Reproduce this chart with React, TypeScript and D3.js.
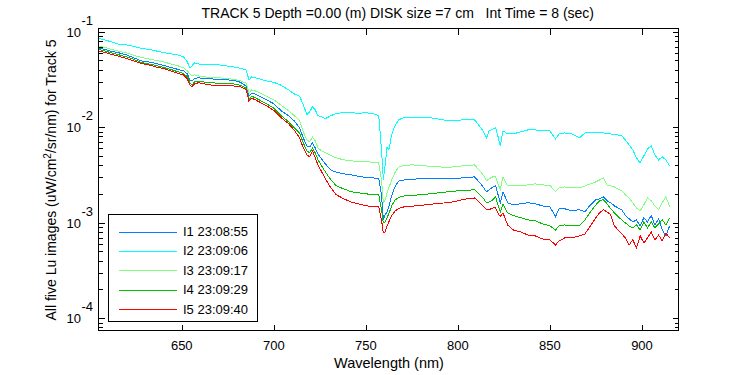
import React from 'react';
import * as d3 from 'd3';

const wavelengths = [
  605, 608, 612, 616, 620, 624, 628, 632, 636, 640,
  644, 648, 651, 653, 654.5, 655.5, 657, 659, 662, 666,
  670, 674, 678, 682, 685, 686.5, 688, 690, 693, 696,
  700, 704, 708, 711, 714, 716, 718, 719.5, 721, 722.5,
  724, 726, 728, 731, 734, 738, 742, 746, 750, 754,
  757, 758.5, 759.5, 760.5, 761.5, 762.5, 764, 766, 768, 771,
  775, 780, 785, 790, 795, 800, 805, 809, 812, 814,
  815.5, 817, 819, 820.5, 822, 823, 824.5, 827, 830, 834,
  838, 842, 846, 850, 853, 855, 858, 862, 866, 869,
  872, 875, 877, 879, 881, 883, 885, 887, 889, 891,
  893, 895, 897, 899, 901, 903, 905, 907, 909, 911,
  913, 915,
];

const luI1 = [
  0.0677, 0.0653, 0.0622, 0.0600, 0.0572, 0.0532, 0.0495, 0.0483, 0.0466, 0.0444,
  0.0423, 0.0403, 0.0389, 0.0362, 0.0313, 0.0306, 0.0325, 0.0329, 0.0325, 0.0321,
  0.0317, 0.0313, 0.0311, 0.0295, 0.0268, 0.0211, 0.0226, 0.0222, 0.0208, 0.0194,
  0.0176, 0.0149, 0.0132, 0.0117, 0.00983, 0.00773, 0.00637, 0.00622, 0.00685, 0.00607,
  0.00524, 0.00466, 0.00413, 0.00357, 0.00337, 0.00325, 0.00317, 0.00306, 0.00298, 0.00295,
  0.00289, 0.00196, 0.00107, 0.00121, 0.00130, 0.00147, 0.00191, 0.00243, 0.00275, 0.00281,
  0.00285, 0.00289, 0.00289, 0.00289, 0.00289, 0.00292, 0.00298, 0.00302, 0.00261, 0.00232,
  0.00211, 0.00222, 0.00237, 0.00243, 0.00191, 0.00162, 0.00211, 0.00162, 0.00154, 0.00158,
  0.00162, 0.00158, 0.00150, 0.00147, 0.00116, 0.00140, 0.00140, 0.00133, 0.00137, 0.00130,
  0.00154, 0.00174, 0.00178, 0.00187, 0.00170, 0.00162, 0.00150, 0.00143, 0.00137, 0.00119,
  0.00110, 0.00102, 0.00107, 0.000926, 0.00113, 0.00102, 0.00119, 0.000948, 0.00110, 0.000841,
  0.000728, 0.000926,
];

const luI2 = [
  0.0851, 0.0821, 0.0782, 0.0737, 0.0728, 0.0702, 0.0669, 0.0653, 0.0630, 0.0607,
  0.0586, 0.0572, 0.0545, 0.0483, 0.0418, 0.0439, 0.0472, 0.0460, 0.0455, 0.0455,
  0.0450, 0.0439, 0.0428, 0.0413, 0.0398, 0.0313, 0.0337, 0.0329, 0.0317, 0.0306,
  0.0295, 0.0275, 0.0246, 0.0224, 0.0211, 0.0172, 0.0135, 0.0145, 0.0164, 0.0152,
  0.0132, 0.0129, 0.0123, 0.0132, 0.0140, 0.0142, 0.0142, 0.0140, 0.0142, 0.0138,
  0.0133, 0.00579, 0.00281, 0.00403, 0.00622, 0.00579, 0.00831, 0.0106, 0.0120, 0.0127,
  0.0127, 0.0126, 0.0126, 0.0121, 0.0117, 0.0118, 0.0121, 0.0120, 0.0101, 0.00893,
  0.00773, 0.00915, 0.00960, 0.00983, 0.00773, 0.00637, 0.00915, 0.00851, 0.00851, 0.00893,
  0.00937, 0.00937, 0.00926, 0.00915, 0.00754, 0.00851, 0.00872, 0.00851, 0.00773, 0.00872,
  0.00872, 0.00872, 0.00872, 0.00872, 0.00861, 0.00851, 0.00841, 0.00831, 0.00811, 0.00736,
  0.00652, 0.00579, 0.00477, 0.00423, 0.00501, 0.00593, 0.00637, 0.00513, 0.00455, 0.00489,
  0.00455, 0.00394,
];

const luI3 = [
  0.0711, 0.0685, 0.0653, 0.0622, 0.0600, 0.0565, 0.0539, 0.0519, 0.0501, 0.0483,
  0.0461, 0.0439, 0.0418, 0.0389, 0.0362, 0.0345, 0.0353, 0.0345, 0.0337, 0.0333,
  0.0329, 0.0325, 0.0317, 0.0306, 0.0289, 0.0229, 0.0246, 0.0240, 0.0226, 0.0211,
  0.0194, 0.0170, 0.0149, 0.0133, 0.0117, 0.00893, 0.00736, 0.00702, 0.00792, 0.00719,
  0.00607, 0.00565, 0.00539, 0.00507, 0.00477, 0.00455, 0.00444, 0.00439, 0.00439, 0.00428,
  0.00423, 0.00281, 0.00162, 0.00174, 0.00206, 0.00232, 0.00281, 0.00341, 0.00384, 0.00399,
  0.00403, 0.00399, 0.00389, 0.00384, 0.00380, 0.00389, 0.00399, 0.00403, 0.00348, 0.00311,
  0.00275, 0.00289, 0.00302, 0.00302, 0.00249, 0.00222, 0.00302, 0.00243, 0.00243, 0.00243,
  0.00249, 0.00255, 0.00249, 0.00246, 0.00211, 0.00232, 0.00237, 0.00232, 0.00232, 0.00243,
  0.00255, 0.00268, 0.00281, 0.00295, 0.00249, 0.00243, 0.00237, 0.00226, 0.00216, 0.00196,
  0.00182, 0.00162, 0.00143, 0.00133, 0.00154, 0.00182, 0.00170, 0.00150, 0.00137, 0.00162,
  0.00187, 0.00147,
];

const luI4 = [
  0.0653, 0.0630, 0.0600, 0.0572, 0.0545, 0.0513, 0.0477, 0.0461, 0.0444, 0.0423,
  0.0403, 0.0380, 0.0366, 0.0337, 0.0292, 0.0276, 0.0298, 0.0302, 0.0298, 0.0292,
  0.0289, 0.0285, 0.0285, 0.0275, 0.0255, 0.0194, 0.0211, 0.0203, 0.0189, 0.0176,
  0.0158, 0.0132, 0.0114, 0.00995, 0.00872, 0.00685, 0.00565, 0.00539, 0.00607, 0.00539,
  0.00455, 0.00394, 0.00341, 0.00281, 0.00243, 0.00226, 0.00211, 0.00206, 0.00201, 0.00196,
  0.00196, 0.00137, 0.000995, 0.00102, 0.00113, 0.00124, 0.00150, 0.00174, 0.00185, 0.00191,
  0.00194, 0.00196, 0.00201, 0.00206, 0.00211, 0.00216, 0.00218, 0.00222, 0.00196, 0.00178,
  0.00162, 0.00165, 0.00174, 0.00187, 0.00147, 0.00130, 0.00158, 0.00127, 0.00119, 0.00113,
  0.00107, 0.00105, 0.000972, 0.000926, 0.000841, 0.000926, 0.000948, 0.000926, 0.000926, 0.00107,
  0.00130, 0.00154, 0.00170, 0.00174, 0.00158, 0.00140, 0.00127, 0.00116, 0.00107, 0.000995,
  0.000926, 0.000882, 0.000948, 0.000841, 0.00102, 0.000882, 0.00102, 0.000882, 0.000972, 0.00107,
  0.000948, 0.00113,
];

const luI5 = [
  0.0630, 0.0607, 0.0579, 0.0552, 0.0524, 0.0495, 0.0466, 0.0450, 0.0428, 0.0413,
  0.0389, 0.0366, 0.0353, 0.0321, 0.0276, 0.0265, 0.0285, 0.0292, 0.0285, 0.0276,
  0.0275, 0.0271, 0.0271, 0.0265, 0.0249, 0.0187, 0.0201, 0.0194, 0.0180, 0.0168,
  0.0150, 0.0126, 0.0109, 0.00937, 0.00773, 0.00607, 0.00513, 0.00489, 0.00565, 0.00477,
  0.00403, 0.00341, 0.00289, 0.00232, 0.00196, 0.00178, 0.00165, 0.00158, 0.00150, 0.00149,
  0.00147, 0.00107, 0.000782, 0.000801, 0.000926, 0.00102, 0.00119, 0.00133, 0.00142, 0.00147,
  0.00149, 0.00152, 0.00156, 0.00160, 0.00162, 0.00170, 0.00178, 0.00182, 0.00162, 0.00147,
  0.00137, 0.00137, 0.00143, 0.00143, 0.00124, 0.00116, 0.00127, 0.000948, 0.000841, 0.000801,
  0.000745, 0.000728, 0.000677, 0.000661, 0.000586, 0.000645, 0.000693, 0.000693, 0.000728, 0.000764,
  0.000926, 0.00113, 0.00127, 0.00137, 0.00130, 0.00121, 0.000926, 0.000841, 0.000764, 0.000693,
  0.000586, 0.000661, 0.000545, 0.000728, 0.000614, 0.000693, 0.000801, 0.000661, 0.000745, 0.000645,
  0.000782, 0.000693,
];

const seriesLabels = ['I1 23:08:55', 'I2 23:09:06', 'I3 23:09:17', 'I4 23:09:29', 'I5 23:09:40'];
const seriesColors = ['#0080ff', '#00ffff', '#80ff80', '#00c000', '#ff0000'];
const xTickValues = [650, 700, 750, 800, 850, 900];
const yDecadeExponents = [-1, -2, -3, -4];

const titleText = 'TRACK 5 Depth =0.00 (m) DISK size =7 cm   Int Time = 8 (sec)';
const xLabelText = 'Wavelength (nm)';

const FONT = '"Liberation Sans", Arial, Helvetica, sans-serif';

export default function App() {
  const left = 98, right = 679, top = 28, bottom = 331;
  const x = d3.scaleLinear().domain([604.5, 920.1]).range([left, right]);
  const y = d3.scaleLog().domain([7.35e-5, 0.1094]).range([bottom, top]);
  const allSeries = [luI1, luI2, luI3, luI4, luI5];

  const line = d3
    .line<number>()
    .x((_, i) => x(wavelengths[i]))
    .y((v) => y(v));

  const L = left + 0.5, R = right - 0.5, T = top + 0.5, B = bottom - 0.5;
  const isMajor = (t: number) => Math.abs(Math.log10(t) - Math.round(Math.log10(t))) < 1e-9;
  const minorTicks = y.ticks().filter((t) => !isMajor(t));
  const crisp = (v: number) => Math.round(v) + 0.5;

  const legX = 108.5, legY = 214.5, legW = 149, legH = 107;
  const rowY0 = 231.5, rowStep = 19.45;

  return (
    <svg
      width={750}
      height={375}
      style={{ position: 'absolute', left: 0, top: 0, background: '#fff' }}
      fontFamily={FONT}
    >
      <rect x={0} y={0} width={750} height={375} fill="#fff" />

      {/* data lines */}
      <g fill="none" strokeWidth={1} shapeRendering="crispEdges">
        {allSeries.map((vals, k) => (
          <path key={k} d={line(vals) || ''} stroke={seriesColors[k]} />
        ))}
      </g>

      {/* axes box */}
      <g stroke="#000" strokeWidth={1} shapeRendering="crispEdges" fill="none">
        <rect x={L} y={T} width={R - L} height={B - T} />
        {xTickValues.map((t) => (
          <g key={t}>
            <line x1={crisp(x(t))} x2={crisp(x(t))} y1={B} y2={B - 6} />
            <line x1={crisp(x(t))} x2={crisp(x(t))} y1={T} y2={T + 6} />
          </g>
        ))}
        {yDecadeExponents.map((e) => {
          const yy = crisp(y(Math.pow(10, e)));
          return (
            <g key={e}>
              <line x1={L} x2={L + 6} y1={yy} y2={yy} />
              <line x1={R} x2={R - 6} y1={yy} y2={yy} />
            </g>
          );
        })}
        {minorTicks.map((t, i) => {
          const yy = crisp(y(t));
          return (
            <g key={i}>
              <line x1={L} x2={L + 4} y1={yy} y2={yy} />
              <line x1={R} x2={R - 4} y1={yy} y2={yy} />
            </g>
          );
        })}
      </g>

      {/* x tick labels */}
      <g fontSize={13} fill="#000" textAnchor="middle">
        {xTickValues.map((t) => (
          <text key={t} x={x(t)} y={350}>
            {t}
          </text>
        ))}
      </g>

      {/* y tick labels */}
      <g fontSize={13} fill="#000">
        {yDecadeExponents.map((e) => {
          const yy = y(Math.pow(10, e));
          return (
            <g key={e}>
              <text x={81} y={yy + 5} textAnchor="end">10</text>
              <text x={81.5} y={yy - 7} textAnchor="start">{String(e)}</text>
            </g>
          );
        })}
      </g>

      {/* title */}
      <text x={201.5} y={18} fontSize={14} fill="#000" style={{ whiteSpace: 'pre' }}>
        {titleText}
      </text>

      {/* x label */}
      <text x={389} y={368} fontSize={14.5} fill="#000" textAnchor="middle">
        {xLabelText}
      </text>

      {/* y label */}
      <text
        transform={`translate(55.5, 180) rotate(-90)`}
        fontSize={14}
        fill="#000"
        textAnchor="middle"
      >
        All five Lu images (uW/cm
        <tspan fontSize={10} dy={-5}>2</tspan>
        <tspan dy={5}>/sr/nm) for Track 5</tspan>
      </text>

      {/* legend */}
      <g>
        <rect
          x={legX}
          y={legY}
          width={legW}
          height={legH}
          fill="#fff"
          stroke="#000"
          strokeWidth={1}
          shapeRendering="crispEdges"
        />
        {seriesLabels.map((lab, k) => {
          const yy = rowY0 + k * rowStep;
          return (
            <g key={lab}>
              <line
                x1={119}
                x2={177}
                y1={crisp(yy)}
                y2={crisp(yy)}
                stroke={seriesColors[k]}
                strokeWidth={1}
                shapeRendering="crispEdges"
              />
              <text x={183} y={yy + 4.5} fontSize={13} fill="#000">
                {lab}
              </text>
            </g>
          );
        })}
      </g>
    </svg>
  );
}
